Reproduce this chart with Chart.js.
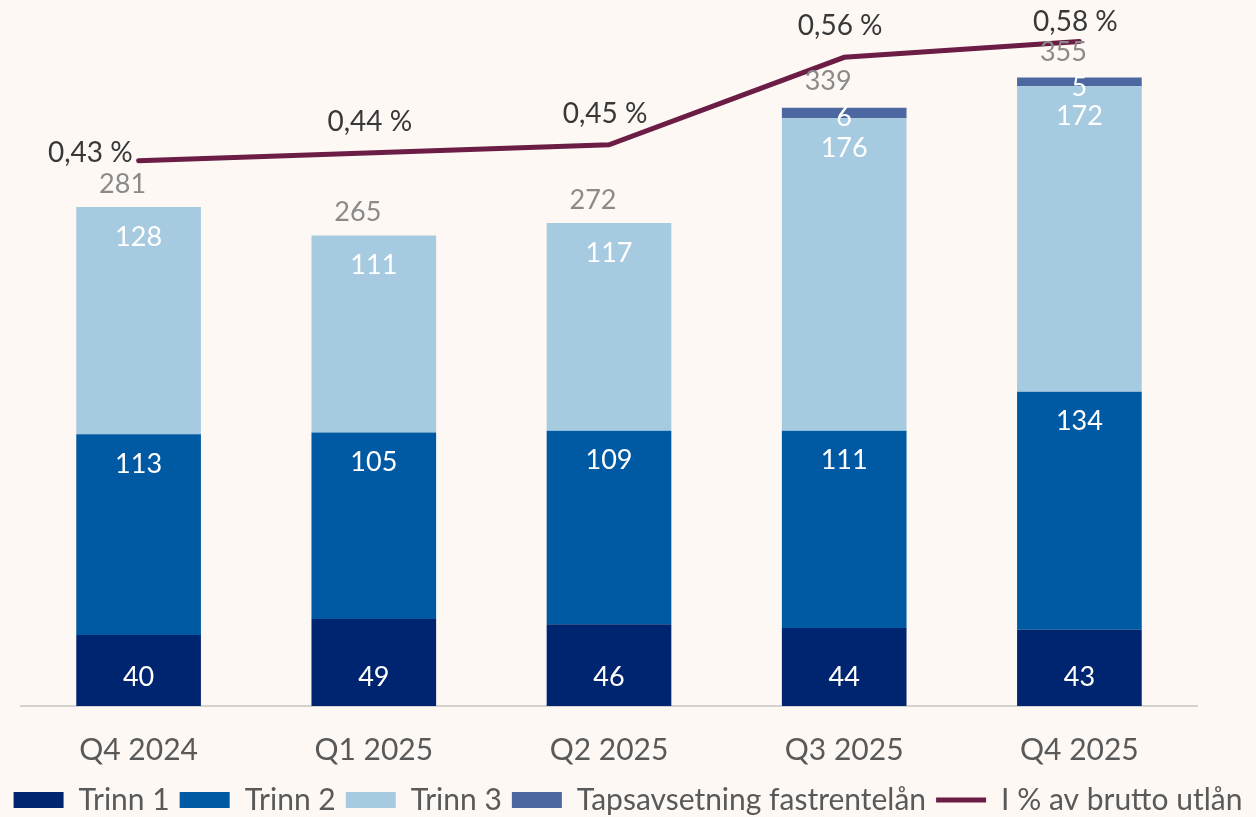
<!DOCTYPE html>
<html>
<head>
<meta charset="utf-8">
<script src="https://cdn.jsdelivr.net/npm/chart.js@4.4.1/dist/chart.umd.min.js"></script>
<style>
html, body { margin: 0; padding: 0; background: #fdf8f4; }
</style>
</head>
<body>
<canvas id="lossChart" width="1256" height="817"></canvas>
<script>
var quarters = ['Q4 2024', 'Q1 2025', 'Q2 2025', 'Q3 2025', 'Q4 2025'];
var trinn1 = [40, 49, 46, 44, 43];
var trinn2 = [113, 105, 109, 111, 134];
var trinn3 = [128, 111, 117, 176, 172];
var fastrente = [0, 0, 0, 6, 5];
var totals = [281, 265, 272, 339, 355];
var pctOfLoans = [0.43, 0.44, 0.45, 0.56, 0.58];

var FONT = 'Lato, "DejaVu Sans", sans-serif';

function fmtPct(v) {
    return v.toFixed(2).replace('.', ',') + ' %';
}

// draws the value labels (no datalabels plugin available)
var valueLabels = {
    id: 'valueLabels',
    afterDatasetsDraw: function(chart) {
        var ctx = chart.ctx;
        ctx.save();
        ctx.textAlign = 'center';
        ctx.textBaseline = 'middle';
        ctx.font = '27px ' + FONT;
        ctx.fillStyle = '#ffffff';
        chart.data.datasets.forEach(function(ds, di) {
            if (ds.type === 'line') return;
            var meta = chart.getDatasetMeta(di);
            meta.data.forEach(function(bar, i) {
                var v = ds.data[i];
                if (!v) return;
                var y = ds.labelAt === 'base' ? bar.base - 29 : bar.y + ds.labelOffset;
                ctx.fillText(v, bar.x, y);
            });
        });

        // totals above the stacks
        var yScale = chart.scales.y;
        var firstBars = chart.getDatasetMeta(0).data;
        ctx.fillStyle = '#8a8a8a';
        totals.forEach(function(t, i) {
            ctx.fillText(t, firstBars[i].x - 16, yScale.getPixelForValue(t) - 23);
        });

        // percentage labels on the line
        var lineIdx = chart.data.datasets.length - 1;
        var pts = chart.getDatasetMeta(lineIdx).data;
        ctx.fillStyle = '#383838';
        ctx.font = '28px ' + FONT;
        pctOfLoans.forEach(function(p, i) {
            if (i === 0) {
                ctx.textAlign = 'right';
                ctx.fillText(fmtPct(p), pts[i].x - 6, pts[i].y - 8);
            } else {
                ctx.textAlign = 'center';
                ctx.fillText(fmtPct(p), pts[i].x - 4, Math.max(pts[i].y - 31, 22));
            }
        });
        ctx.restore();
    }
};

var ctx = document.getElementById('lossChart').getContext('2d');
var myChart = new Chart(ctx, {
    type: 'bar',
    data: {
        labels: quarters,
        datasets: [{
            label: 'Trinn 1',
            data: trinn1,
            backgroundColor: '#002570',
            pointStyle: 'rect',
            labelAt: 'base',
            order: 1
        }, {
            label: 'Trinn 2',
            data: trinn2,
            backgroundColor: '#005aa3',
            pointStyle: 'rect',
            labelOffset: 30,
            order: 1
        }, {
            label: 'Trinn 3',
            data: trinn3,
            backgroundColor: '#a6cbe0',
            pointStyle: 'rect',
            labelOffset: 30,
            order: 1
        }, {
            label: 'Tapsavsetning fastrentelån',
            data: fastrente,
            backgroundColor: '#4d68a0',
            pointStyle: 'rect',
            labelOffset: 10,
            order: 1
        }, {
            type: 'line',
            label: 'I % av brutto utlån',
            data: pctOfLoans,
            yAxisID: 'y1',
            borderColor: '#6b1d45',
            backgroundColor: '#6b1d45',
            borderWidth: 5,
            borderCapStyle: 'round',
            pointRadius: 0,
            pointStyle: 'line',
            tension: 0,
            order: 0
        }]
    },
    options: {
        responsive: false,
        animation: false,
        layout: {
            padding: { top: 10, left: 0, right: 0, bottom: -8 }
        },
        datasets: {
            bar: { barPercentage: 0.53, categoryPercentage: 1 }
        },
        scales: {
            x: {
                stacked: true,
                grid: { display: false },
                border: { display: true, color: '#d4d2d0', width: 2 },
                ticks: {
                    color: '#595959',
                    font: { family: FONT, size: 30 },
                    padding: 18
                },
                afterFit: function(axis) { axis.height = 69; }
            },
            y: {
                stacked: true,
                min: 0,
                max: 392,
                grid: { display: false },
                border: { display: false },
                ticks: { display: false },
                afterFit: function(axis) { axis.width = 21; }
            },
            y1: {
                position: 'right',
                min: -0.256,
                max: 0.6195,
                grid: { display: false },
                border: { display: false },
                ticks: { display: false },
                afterFit: function(axis) { axis.width = 59; }
            }
        },
        plugins: {
            tooltip: { enabled: false },
            legend: {
                position: 'bottom',
                labels: {
                    usePointStyle: true,
                    pointStyleWidth: 50,
                    boxHeight: 16,
                    padding: 10,
                    color: '#595959',
                    font: { family: FONT, size: 30 },
                    sort: function(a, b) { return a.datasetIndex - b.datasetIndex; }
                }
            }
        }
    },
    plugins: [valueLabels]
});
</script>
</body>
</html>
